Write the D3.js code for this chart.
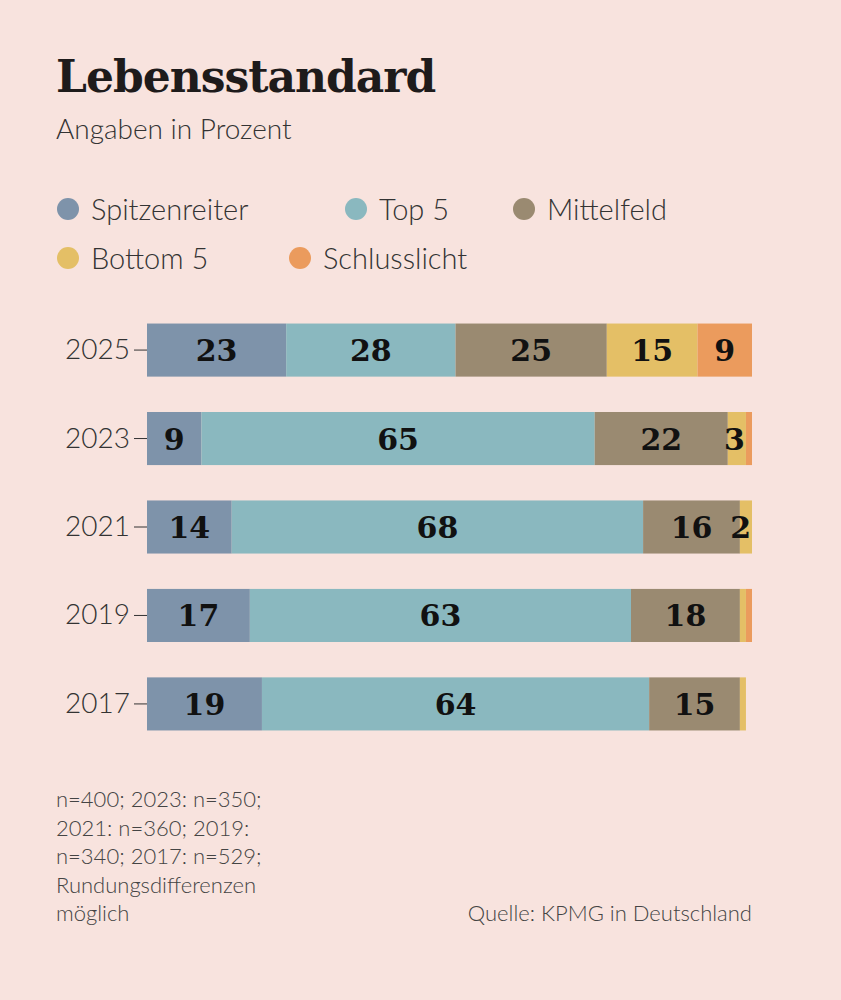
<!DOCTYPE html><html><head><meta charset="utf-8">
<script src="https://cdn.jsdelivr.net/npm/d3@7"></script>
<style>body{margin:0;background:#f8e3de}</style></head><body><svg width="841" height="1000"></svg>
<script>
const years=["2025","2023","2021","2019","2017"];
const seriesNames=["Spitzenreiter","Top 5","Mittelfeld","Bottom 5","Schlusslicht"];
const colors=["#7e93aa","#8ab8bf","#9a8a71","#e4bf66","#eb9b5d"];
const spitzenreiter=[23,9,14,17,19];
const top5=[28,65,68,63,64];
const mittelfeld=[25,22,16,18,15];
const bottom5=[15,3,2,1,1];
const schlusslicht=[9,1,0,1,0];
const vals=[spitzenreiter,top5,mittelfeld,bottom5,schlusslicht];
const svg=d3.select("svg");
svg.append("rect").attr("width",841).attr("height",1000).attr("fill","#f8e3de");
const sans="Lato, 'Open Sans', sans-serif", serif="'DejaVu Serif', serif";
svg.append("text").attr("x",56).attr("y",92).attr("font-family",serif).attr("font-weight","bold").attr("font-size",44).attr("fill","#1e1b1b").attr("letter-spacing",-1).text("Lebensstandard");
svg.append("text").attr("x",56).attr("y",139).attr("font-family",sans).attr("font-weight",300).attr("font-size",28).attr("fill","#333").text("Angaben in Prozent");
const leg=[[0,68,210],[1,356,210],[2,524,210],[3,68,259],[4,300,259]];
leg.forEach(([i,x,y])=>{svg.append("circle").attr("cx",x).attr("cy",y-1).attr("r",11).attr("fill",colors[i]);
 svg.append("text").attr("x",x+23).attr("y",y+10).attr("font-family",sans).attr("font-weight",300).attr("font-size",29).attr("fill","#333").text(seriesNames[i]);});
const x=d3.scaleLinear().domain([0,100]).range([147,752]);
const y=d3.scaleBand().domain(years).range([297,757]).paddingInner(0.4).paddingOuter(0.3);
const ax=svg.append("g").attr("transform","translate(147,0)").call(d3.axisLeft(y).tickSize(13).tickPadding(4));
ax.select(".domain").remove();
ax.selectAll("line").attr("stroke","#333");
ax.selectAll("text").attr("font-family",sans).attr("font-weight",300).attr("font-size",28).attr("fill","#333");
years.forEach((yr,j)=>{let acc=0;
 vals.forEach((s,i)=>{const v=s[j];if(!v)return;
  svg.append("rect").attr("x",x(acc)).attr("y",y(yr)).attr("width",x(acc+v)-x(acc)).attr("height",y.bandwidth()).attr("fill",colors[i]);
  if(v>=2)svg.append("text").attr("x",v<=3?x(acc+v)-1:(x(acc)+x(acc+v))/2).attr("text-anchor",v<=3?"end":"middle").attr("y",y(yr)+y.bandwidth()/2+11).attr("font-family",serif).attr("font-weight","bold").attr("font-size",30).attr("fill","#111").text(v);
  acc+=v;});});
const notes=["n=400; 2023: n=350;","2021: n=360; 2019:","n=340; 2017: n=529;","Rundungsdifferenzen","möglich"];
notes.forEach((t,i)=>svg.append("text").attr("x",56).attr("y",807+i*28.5).attr("font-family",sans).attr("font-weight",300).attr("font-size",22).attr("fill","#444").text(t));
svg.append("text").attr("x",752).attr("y",921).attr("text-anchor","end").attr("font-family",sans).attr("font-weight",300).attr("font-size",22).attr("fill","#444").text("Quelle: KPMG in Deutschland");
</script></body></html>
